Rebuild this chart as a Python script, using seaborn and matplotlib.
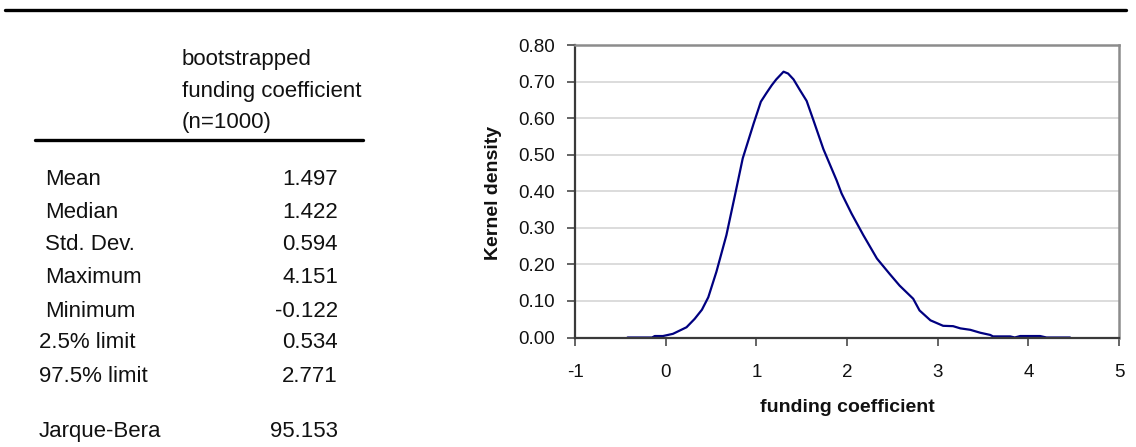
import matplotlib
matplotlib.use("Agg")
import matplotlib.pyplot as plt
from matplotlib.lines import Line2D
import seaborn as sns
import numpy as np

# ---- data ----
header_lines = ["bootstrapped", "funding coefficient", "(n=1000)"]
stat_labels = ["Mean", "Median", "Std. Dev.", "Maximum", "Minimum", "2.5% limit", "97.5% limit", "Jarque-Bera"]
stat_values = ["1.497", "1.422", "0.594", "4.151", "-0.122", "0.534", "2.771", "95.153"]

curve_x = [-0.42, -0.15, -0.12, -0.03, 0.08, 0.23, 0.32, 0.40, 0.47, 0.56, 0.67, 0.765, 0.85,
           0.97, 1.05, 1.11, 1.17, 1.22, 1.30, 1.35, 1.41, 1.48, 1.555, 1.63, 1.74, 1.885, 1.94,
           2.05, 2.18, 2.33, 2.47, 2.58, 2.73, 2.80, 2.92, 3.06, 3.17, 3.25, 3.36, 3.47, 3.58,
           3.61, 3.80, 3.85, 3.91, 4.13, 4.20, 4.46]
curve_y = [0.0, 0.0, 0.004, 0.004, 0.010, 0.028, 0.051, 0.076, 0.11, 0.18, 0.28, 0.39, 0.49,
           0.585, 0.645, 0.668, 0.69, 0.706, 0.727, 0.722, 0.706, 0.677, 0.647, 0.594, 0.515, 0.43, 0.394,
           0.339, 0.28, 0.216, 0.174, 0.142, 0.106, 0.074, 0.047, 0.032, 0.031, 0.025, 0.021, 0.013, 0.007,
           0.003, 0.003, 0.0, 0.004, 0.004, 0.0, 0.0]

x_ticks = [-1, 0, 1, 2, 3, 4, 5]
y_ticks = [0.0, 0.1, 0.2, 0.3, 0.4, 0.5, 0.6, 0.7, 0.8]
x_label = "funding coefficient"
y_label = "Kernel density"

# ---- style ----
sns.set_theme(style="white")
plt.rcParams["font.family"] = ["Liberation Sans", "DejaVu Sans"]

W, H = 1136, 447
fig = plt.figure(figsize=(W / 100, H / 100), dpi=100)

def fx(px):
    return px / W

def fy(py):
    return 1 - py / H

# chart axes
ax_l, ax_r, ax_t, ax_b = 575, 1119, 45, 337.5
ax_w, ax_h = ax_r - ax_l, ax_b - ax_t
ax = fig.add_axes([fx(ax_l), fy(ax_b), fx(ax_r) - fx(ax_l), fy(ax_t) - fy(ax_b)])

sns.lineplot(x=curve_x, y=curve_y, ax=ax, color="#000080", linewidth=1.6, estimator=None)

ax.set_xlim(-1, 5)
ax.set_ylim(0, 0.8)
ax.set_xticks(x_ticks)
ax.set_xticklabels([str(t) for t in x_ticks])
ax.set_yticks(y_ticks)
ax.set_yticklabels([f"{t:.2f}" for t in y_ticks])
ax.yaxis.grid(True, color="#d9d9d9", linewidth=1.3)
ax.xaxis.grid(False)
ax.set_axisbelow(True)

for side in ["top", "right"]:
    ax.spines[side].set_visible(True)
    ax.spines[side].set_color("#8c8c8c")
    ax.spines[side].set_linewidth(1.8)
for side in ["left", "bottom"]:
    ax.spines[side].set_color("#3a3a3a")
    ax.spines[side].set_linewidth(1.6)

ax.tick_params(axis="both", which="major", direction="out", length=5.8, width=1.1,
               color="#3a3a3a", labelsize=13.5, labelcolor="#111111",
               left=True, bottom=True)
ax.tick_params(axis="y", pad=8.5)
ax.tick_params(axis="x", pad=13.5)

ax.set_xlabel(x_label, fontsize=14, fontweight="bold", color="#111111", va="center")
ax.set_ylabel(y_label, fontsize=14, fontweight="bold", color="#111111", va="center")
ax.xaxis.set_label_coords(0.5, (ax_b - 408) / ax_h)
ax.yaxis.set_label_coords((494 - ax_l) / ax_w, 0.5 + (ax_b - 193 - ax_h / 2) / ax_h)

# ---- left table ----
tcol = "#111111"
fs = 16
header_baselines = [65, 97, 128]
for line, yb in zip(header_lines, header_baselines):
    fig.text(fx(182), fy(yb), line, fontsize=fs, ha="left", va="baseline", color=tcol)

row_baselines = [185, 218, 250, 283, 317, 348, 382, 437]
label_x = [45, 45, 45, 45, 45, 39, 39, 39]
for lab, val, yb, lx in zip(stat_labels, stat_values, row_baselines, label_x):
    fig.text(fx(lx), fy(yb), lab, fontsize=fs, ha="left", va="baseline", color=tcol)
    fig.text(fx(338), fy(yb), val, fontsize=fs, ha="right", va="baseline", color=tcol)

# rules
fig.add_artist(Line2D([fx(5), fx(1126)], [fy(9.5), fy(9.5)], color="black", linewidth=2.4))
fig.add_artist(Line2D([fx(35), fx(363)], [fy(140), fy(140)], color="black", linewidth=2.4))

fig.savefig("out.png", dpi=100, facecolor="white")
